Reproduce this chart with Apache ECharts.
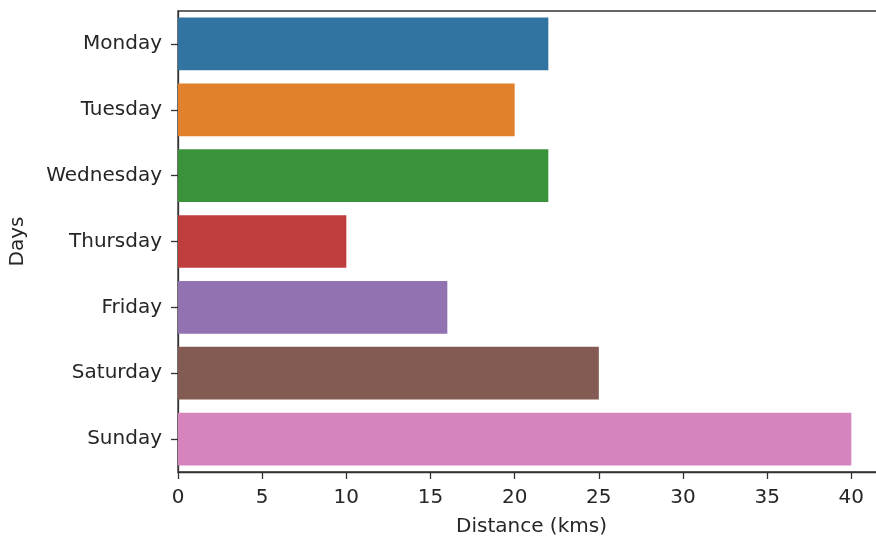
<!DOCTYPE html>
<html><head><meta charset="utf-8">
<script src="https://cdn.jsdelivr.net/npm/echarts@6/dist/echarts.min.js"></script>
<style>html,body{margin:0;padding:0;background:#fff}#c{width:876px;height:541px}</style>
</head><body><div id="c"></div>
<script>
const days = ['Monday','Tuesday','Wednesday','Thursday','Friday','Saturday','Sunday'];
const distance = [22, 20, 22, 10, 16, 25, 40];
const colors = ['#3274a1','#e1812c','#3a923a','#c03d3e','#9372b2','#845b53','#d684bd'];
const xTicks = [0,5,10,15,20,25,30,35,40];

const chart = echarts.init(document.getElementById('c'), null, {renderer:'canvas'});
const font = 'DejaVu Sans';
const fs = 20;
chart.setOption({
  animation:false,
  grid:{left:178, top:11, width:707, height:461, show:true, borderColor:'#333333', borderWidth:1.3,
    containLabel:false, outerBoundsMode:'none'},
  xAxis:{type:'value', min:0, max:42, interval:5,
    name:'Distance (kms)', nameLocation:'middle', nameGap:45,
    nameTextStyle:{fontFamily:font, fontSize:fs, color:'#262626'},
    axisLine:{show:true, lineStyle:{color:'#333333', width:1.3}},
    axisTick:{show:true, length:7, lineStyle:{color:'#333333', width:1.3}},
    axisLabel:{fontFamily:font, fontSize:fs, color:'#262626', margin:16,
      formatter:v => xTicks.includes(v) ? String(v) : ''},
    splitLine:{show:false}},
  yAxis:{type:'category', data:days, inverse:true,
    name:'Days', nameLocation:'middle', nameGap:150, nameRotate:90,
    nameTextStyle:{fontFamily:font, fontSize:fs, color:'#262626'},
    axisLine:{show:true, lineStyle:{color:'#333333', width:1.3}},
    axisTick:{show:true, alignWithLabel:true, length:7, lineStyle:{color:'#333333', width:1.3}},
    axisLabel:{fontFamily:font, fontSize:fs, color:'#262626', margin:16, padding:[6,0,0,0]}},
  series:[{type:'bar', barWidth:'80%',
    data:distance.map((v,i)=>({value:v, itemStyle:{color:colors[i]}}))}]
});
</script></body></html>
